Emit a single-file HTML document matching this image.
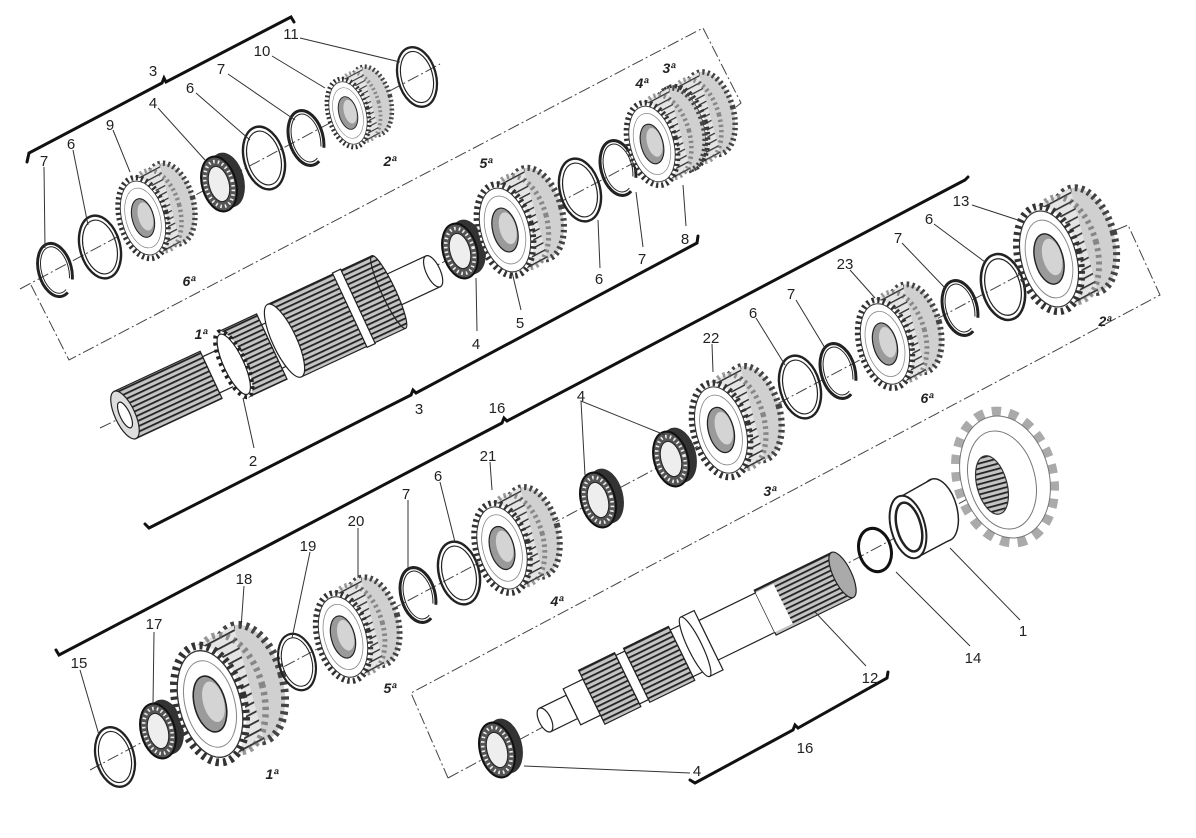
<!DOCTYPE html>
<html><head><meta charset="utf-8"><style>
html,body{margin:0;padding:0;background:#fff;}
svg{display:block;}
text{font-family:"Liberation Sans",sans-serif;font-size:15px;fill:#222;text-anchor:middle;}
.g{font-style:italic;font-weight:bold;font-size:14px;}
.ld{stroke:#333;stroke-width:1;fill:none;}
.bl{stroke:#111;stroke-width:3;fill:none;stroke-linecap:round;}
.ax{stroke:#444;stroke-width:1;fill:none;stroke-dasharray:12 3 2 3;}
</style></head><body>
<svg width="1196" height="838" viewBox="0 0 1196 838" xmlns="http://www.w3.org/2000/svg">
<defs>
<pattern id="sst" width="8" height="5" patternUnits="userSpaceOnUse"><rect width="8" height="5" fill="#c4c4c4"/><rect width="8" height="1.8" fill="#222"/></pattern>
<pattern id="gst" width="8" height="7" patternUnits="userSpaceOnUse" patternTransform="rotate(-28)"><rect width="8" height="7" fill="#e4e4e4"/><rect width="8" height="1.4" fill="#333"/></pattern>
<g id="gear">
<ellipse cx="30" cy="-16" rx="26" ry="46" transform="rotate(-15 30 -16)" fill="#d0d0d0" stroke="#444" stroke-width="6" stroke-dasharray="2.5 3.2"/>
<polygon points="-11.9,-44.4 18.1,-60.4 41.9,28.4 11.9,44.4" fill="url(#gst)"/>
<ellipse cx="15" cy="-8" rx="26" ry="46" transform="rotate(-15 15 -8)" fill="none" stroke="#555" stroke-width="5" stroke-dasharray="2.5 3.2" opacity="0.6"/>
<ellipse rx="26" ry="46" transform="rotate(-15)" fill="#fff" stroke="#333" stroke-width="6" stroke-dasharray="2.5 3.2"/>
<ellipse rx="23.5" ry="42" transform="rotate(-15)" fill="#fff" stroke="#333" stroke-width="1"/>
<ellipse rx="19" ry="34" transform="rotate(-15)" fill="none" stroke="#888" stroke-width="0.8"/>
<ellipse rx="12" ry="22" transform="rotate(-15)" fill="#9a9a9a" stroke="#222" stroke-width="1.2"/>
<ellipse cx="3" cy="-1" rx="8" ry="16" transform="rotate(-15)" fill="#d4d4d4"/>
</g>
<g id="brg">
<ellipse cx="8" cy="-4" rx="17" ry="28" transform="rotate(-15 8 -4)" fill="#333"/>
<polygon points="-7.2,-27 0.8,-31 15.2,23 7.2,27" fill="#333"/>
<ellipse rx="17" ry="28" transform="rotate(-15)" fill="#555" stroke="#111" stroke-width="2"/>
<ellipse rx="13.5" ry="23" transform="rotate(-15)" fill="none" stroke="#eee" stroke-width="3.5" stroke-dasharray="1.6 3"/>
<ellipse rx="10" ry="18" transform="rotate(-15)" fill="#eee" stroke="#222" stroke-width="1"/>
</g>
<g id="r6">
<ellipse rx="20" ry="32" transform="rotate(-15)" fill="none" stroke="#222" stroke-width="2.4"/>
<ellipse rx="16.5" ry="27.5" transform="rotate(-15)" fill="none" stroke="#222" stroke-width="1.2"/>
</g>
<g id="r7">
<ellipse rx="17" ry="28" transform="rotate(-15)" fill="none" stroke="#222" stroke-width="3" pathLength="100" stroke-dasharray="90 10" stroke-dashoffset="-20"/>
<ellipse rx="14" ry="24.5" transform="rotate(-15)" fill="none" stroke="#222" stroke-width="1" pathLength="100" stroke-dasharray="90 10" stroke-dashoffset="-20"/>
</g>
</defs>

<line class="ax" x1="20" y1="289" x2="440" y2="64"/>
<line class="ax" x1="100" y1="428" x2="485" y2="242"/>
<line class="ax" x1="485" y1="242" x2="720" y2="117"/>
<line class="ax" x1="90" y1="770" x2="1100" y2="232"/>
<line class="ax" x1="448" y1="778" x2="1040" y2="460"/>
<polyline class="ax" points="31,285 69,360 703,28 741,103 736,107"/>
<polyline class="ax" points="1116,230 1128,225 1160,295 411,693 448,778"/>

<polyline class="bl" points="27,162 29,153 162,83 164,78 166,82 291,17 294,22"/>
<polyline class="bl" points="145,524 149,528 411,395 413,390 416,393 697,243 698,236"/>
<polyline class="bl" points="56,650 59,655 502,423 504,418 507,421 965,180 968,177"/>
<polyline class="bl" points="690,780 695,783 793,730 795,725 798,728 887,678 888,672"/>

<use href="#r7" transform="translate(55,270) scale(0.97)"/>
<use href="#r6" transform="translate(100,247)"/>
<use href="#gear" transform="translate(143,218) scale(0.9)"/>
<use href="#brg" transform="translate(219,184)"/>
<use href="#r6" transform="translate(264,158)"/>
<use href="#r7" transform="translate(306,138)"/>
<use href="#gear" transform="translate(348,113) scale(0.76)"/>
<use href="#r6" transform="translate(417,77) scale(0.95)"/>

<g transform="translate(125,415) rotate(-25)" stroke="#222" stroke-width="1.2">
<rect x="0" y="-26" width="95" height="52" fill="url(#sst)"/>
<ellipse cx="0" cy="0" rx="10" ry="26" fill="#ddd"/>
<ellipse cx="0" cy="0" rx="5" ry="14" fill="#fff"/>
<rect x="95" y="-20" width="25" height="40" fill="#fff"/>
<rect x="120" y="-36" width="42" height="72" fill="url(#sst)"/>
<ellipse cx="120" cy="0" rx="12" ry="36" fill="#fff" stroke-width="4" stroke-dasharray="3 4"/>
<ellipse cx="120" cy="0" rx="10" ry="33" fill="#fff"/>
<rect x="162" y="-24" width="14" height="48" fill="#fff"/>
<rect x="176" y="-40" width="115" height="80" fill="url(#sst)"/>
<ellipse cx="176" cy="0" rx="12" ry="40" fill="#fff"/>
<rect x="248" y="-41" width="9" height="82" fill="#fff"/>
<rect x="291" y="-17" width="49" height="34" fill="#fff"/>
<ellipse cx="291" cy="0" rx="7" ry="40" fill="url(#sst)"/>
<ellipse cx="340" cy="0" rx="7" ry="17" fill="#fff"/>
</g>

<use href="#brg" transform="translate(460,251)"/>
<use href="#gear" transform="translate(505,230) scale(1.02)"/>
<use href="#r6" transform="translate(580,190)"/>
<use href="#r7" transform="translate(618,168)"/>
<use href="#gear" transform="translate(682,128) scale(0.92)"/>
<use href="#gear" transform="translate(652,144) scale(0.92)"/>

<use href="#r6" transform="translate(115,757) scale(0.95)"/>
<use href="#brg" transform="translate(158,731)"/>
<use href="#gear" transform="translate(210,704) scale(1.3)"/>
<use href="#r6" transform="translate(297,662) scale(0.9)"/>
<use href="#gear" transform="translate(343,637) scale(0.98)"/>
<use href="#r7" transform="translate(418,595)"/>
<use href="#r6" transform="translate(459,573)"/>
<use href="#gear" transform="translate(502,548) scale(1.0)"/>
<use href="#brg" transform="translate(598,500)"/>
<use href="#brg" transform="translate(671,459)"/>
<use href="#gear" transform="translate(721,430) scale(1.05)"/>
<use href="#r6" transform="translate(800,387)"/>
<use href="#r7" transform="translate(838,371)"/>
<use href="#gear" transform="translate(885,344) scale(0.98)"/>
<use href="#r7" transform="translate(960,308)"/>
<use href="#r6" transform="translate(1003,287) scale(1.05)"/>
<use href="#gear" transform="translate(1049,259) scale(1.17)"/>

<use href="#brg" transform="translate(497,750)"/>
<g transform="translate(545,720) rotate(-26)" stroke="#222" stroke-width="1.2">
<rect x="0" y="-13" width="30" height="26" fill="#fff"/>
<ellipse cx="0" cy="0" rx="6" ry="13" fill="#fff"/>
<rect x="30" y="-20" width="22" height="40" fill="#fff"/>
<rect x="52" y="-30" width="40" height="60" fill="url(#sst)"/>
<rect x="92" y="-27" width="10" height="54" fill="#fff"/>
<rect x="102" y="-30" width="50" height="60" fill="url(#sst)"/>
<rect x="152" y="-26" width="15" height="52" fill="#fff"/>
<rect x="167" y="-33" width="15" height="66" fill="#fff"/>
<ellipse cx="167" cy="0" rx="7" ry="33" fill="#fff"/>
<rect x="182" y="-22" width="63" height="44" fill="#fff"/>
<rect x="245" y="-25" width="86" height="50" fill="url(#sst)"/>
<rect x="245" y="-22" width="20" height="44" fill="#fff" stroke="none"/>
<ellipse cx="331" cy="0" rx="9" ry="25" fill="#aaa"/>
</g>
<ellipse cx="875" cy="550" rx="16" ry="22" transform="rotate(-15 875 550)" fill="none" stroke="#111" stroke-width="3"/>
<ellipse cx="940" cy="510" rx="17" ry="32" transform="rotate(-15 940 510)" fill="#fff" stroke="#222" stroke-width="1.5"/>
<polygon points="900,498 932,479 948,541 916,558" fill="#fff"/>
<line x1="900" y1="497" x2="932" y2="479" stroke="#222" stroke-width="1.5"/>
<line x1="916" y1="558" x2="948" y2="541" stroke="#222" stroke-width="1.5"/>
<ellipse cx="908" cy="527" rx="17" ry="32" transform="rotate(-15 908 527)" fill="#fff" stroke="#222" stroke-width="2"/>
<ellipse cx="909" cy="527" rx="12" ry="25" transform="rotate(-15 909 527)" fill="#fff" stroke="#222" stroke-width="2.5"/>
<ellipse cx="1005" cy="477" rx="47" ry="66" transform="rotate(-15 1005 477)" fill="none" stroke="#aaa" stroke-width="11" stroke-dasharray="9 8"/>
<ellipse cx="1005" cy="477" rx="44" ry="62" transform="rotate(-15 1005 477)" fill="#fff" stroke="#777" stroke-width="1"/>
<ellipse cx="1002" cy="480" rx="33" ry="50" transform="rotate(-15 1002 480)" fill="none" stroke="#777" stroke-width="1"/>
<ellipse cx="992" cy="485" rx="15" ry="30" transform="rotate(-15 992 485)" fill="url(#sst)" stroke="#333" stroke-width="1.2"/>

<g class="ld">
<polyline points="300,38 400,62"/><polyline points="272,56 325,88"/><polyline points="228,74 295,120"/>
<polyline points="196,93 250,140"/><polyline points="158,108 205,160"/><polyline points="113,130 130,172"/>
<polyline points="73,150 88,225"/><polyline points="44,167 45,248"/>
<polyline points="686,226 683,185"/><polyline points="643,247 636,192"/><polyline points="600,268 598,220"/>
<polyline points="521,310 512,272"/><polyline points="477,331 476,278"/><polyline points="254,448 243,398"/>
<polyline points="585,475 581,401 665,435"/>
<polyline points="712,344 713,372"/><polyline points="756,318 785,365"/><polyline points="796,300 825,348"/>
<polyline points="850,270 875,298"/><polyline points="902,243 945,288"/><polyline points="934,224 985,262"/><polyline points="972,205 1024,222"/>
<polyline points="490,462 492,490"/><polyline points="440,482 455,542"/><polyline points="408,500 408,568"/>
<polyline points="358,528 358,578"/><polyline points="310,552 292,638"/><polyline points="244,586 241,628"/>
<polyline points="154,632 153,705"/><polyline points="80,670 99,735"/>
<polyline points="1020,620 950,548"/><polyline points="970,646 896,572"/><polyline points="866,666 815,612"/>
<polyline points="524,766 690,773"/>
</g>

<text x="291" y="39">11</text><text x="262" y="56">10</text><text x="221" y="74">7</text>
<text x="190" y="93">6</text><text x="153" y="108">4</text><text x="110" y="130">9</text>
<text x="71" y="149">6</text><text x="44" y="166">7</text><text x="153" y="76">3</text>
<text class="g" x="189" y="286">6ª</text><text class="g" x="390" y="166">2ª</text>
<text class="g" x="486" y="168">5ª</text><text class="g" x="201" y="339">1ª</text>
<text x="520" y="328">5</text><text x="476" y="349">4</text><text x="419" y="414">3</text>
<text x="497" y="413">16</text><text x="581" y="401">4</text><text x="253" y="466">2</text>
<text class="g" x="642" y="88">4ª</text><text class="g" x="669" y="73">3ª</text>
<text x="685" y="244">8</text><text x="642" y="264">7</text><text x="599" y="284">6</text>
<text x="961" y="206">13</text><text x="929" y="224">6</text><text x="898" y="243">7</text>
<text x="845" y="269">23</text><text x="791" y="299">7</text><text x="753" y="318">6</text>
<text x="711" y="343">22</text><text class="g" x="927" y="403">6ª</text><text class="g" x="1105" y="326">2ª</text>
<text x="488" y="461">21</text><text x="438" y="481">6</text><text x="406" y="499">7</text>
<text x="356" y="526">20</text><text x="308" y="551">19</text><text x="244" y="584">18</text>
<text x="154" y="629">17</text><text x="79" y="668">15</text><text class="g" x="390" y="693">5ª</text>
<text class="g" x="557" y="606">4ª</text><text class="g" x="272" y="779">1ª</text>
<text class="g" x="770" y="496">3ª</text><text x="1023" y="636">1</text><text x="973" y="663">14</text>
<text x="870" y="683">12</text><text x="805" y="753">16</text><text x="697" y="776">4</text>
</svg>
</body></html>
